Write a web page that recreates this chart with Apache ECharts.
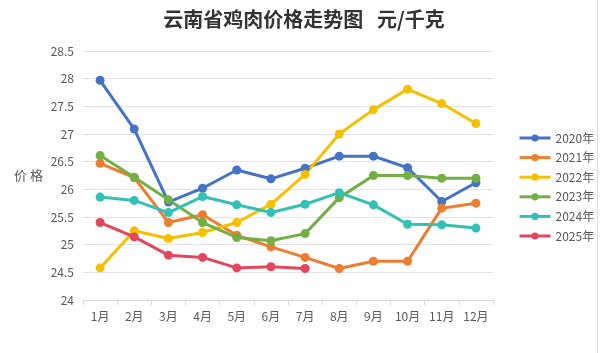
<!DOCTYPE html>
<html>
<head>
<meta charset="utf-8">
<script src="https://cdn.jsdelivr.net/npm/echarts@6/dist/echarts.min.js"></script>
<style>
  html, body { margin: 0; padding: 0; background: #fff; }
  #chart { width: 600px; height: 353px; }
</style>
</head>
<body>
<div id="chart"></div>
<script>
const months = ['1月', '2月', '3月', '4月', '5月', '6月', '7月', '8月', '9月', '10月', '11月', '12月']
const yTicks = [24, 24.5, 25, 25.5, 26, 26.5, 27, 27.5, 28, 28.5]

const y2020 = [27.97, 27.09, 25.77, 26.02, 26.35, 26.19, 26.38, 26.6, 26.6, 26.39, 25.78, 26.12]
const y2021 = [26.47, 26.21, 25.4, 25.54, 25.17, 24.96, 24.77, 24.57, 24.7, 24.7, 25.66, 25.75]
const y2022 = [24.58, 25.25, 25.11, 25.22, 25.4, 25.73, 26.27, 27.0, 27.44, 27.81, 27.55, 27.19]
const y2023 = [26.61, 26.22, 25.81, 25.4, 25.13, 25.07, 25.2, 25.85, 26.25, 26.25, 26.2, 26.2]
const y2024 = [25.86, 25.8, 25.58, 25.87, 25.72, 25.58, 25.73, 25.94, 25.72, 25.37, 25.36, 25.3]
const y2025 = [25.4, 25.14, 24.81, 24.77, 24.58, 24.6, 24.57]

const seriesDefs = [
  { name: '2020年', data: y2020, color: '#4472C4' },
  { name: '2021年', data: y2021, color: '#ED7D31' },
  { name: '2022年', data: y2022, color: '#F5C000' },
  { name: '2023年', data: y2023, color: '#72B045' },
  { name: '2024年', data: y2024, color: '#33C1B6' },
  { name: '2025年', data: y2025, color: '#E2475E' },
]

const chart = echarts.init(document.getElementById('chart'))

chart.setOption({
  animation: false,
  textStyle: { fontFamily: '"Noto Sans CJK SC", "Noto Sans", sans-serif' },
  title: {
    text: '云南省鸡肉价格走势图   元/千克',
    left: 299,
    textAlign: 'center',
    top: 4,
    textStyle: { fontSize: 20, fontWeight: 'bold', color: '#333' },
  },
  grid: { left: 83, right: 107, top: 51, bottom: 53 },
  legend: {
    orient: 'vertical',
    left: 513,
    top: 126,
    itemGap: 5.6,
    itemWidth: 31,
    itemHeight: 9,
    lineStyle: { width: 3 },
    textStyle: { fontSize: 12, color: '#595959', lineHeight: 14 },
    data: seriesDefs.map((s) => s.name),
  },
  xAxis: {
    type: 'category',
    data: months,
    boundaryGap: true,
    axisLine: { lineStyle: { color: '#d9d9d9' } },
    axisTick: { show: true, length: 5, lineStyle: { color: '#d9d9d9' } },
    axisLabel: { fontSize: 12, color: '#595959', margin: 10 },
  },
  yAxis: {
    type: 'value',
    min: yTicks[0],
    max: yTicks[yTicks.length - 1],
    interval: 0.5,
    name: '价 格',
    nameLocation: 'middle',
    nameRotate: 0,
    nameGap: 40,
    nameTextStyle: { fontSize: 13, color: '#595959' },
    axisLine: { show: false },
    axisTick: { show: false },
    axisLabel: { fontSize: 12, color: '#595959', margin: 9 },
    splitLine: { lineStyle: { color: '#e3e3e3' } },
  },
  series: seriesDefs.map((s) => ({
    name: s.name,
    type: 'line',
    data: s.data,
    symbol: 'circle',
    symbolSize: 9,
    lineStyle: { width: 3, color: s.color },
    itemStyle: { color: s.color },
  })),
  graphic: [{
    type: 'line',
    shape: { x1: 597.5, y1: 0, x2: 597.5, y2: 353 },
    style: { stroke: '#e0e0e0', lineWidth: 1 },
  }],
})
</script>
</body>
</html>
